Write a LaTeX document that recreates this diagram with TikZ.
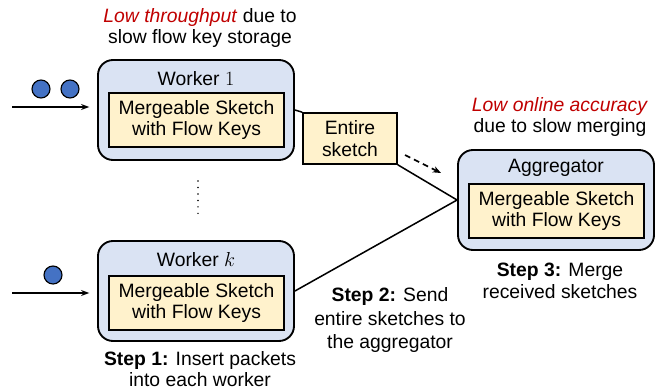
\documentclass[tikz,border=0pt]{standalone}
\usepackage{fontspec}
\setmainfont{Liberation Sans}
\usepackage{xcolor}
\usetikzlibrary{positioning,arrows.meta}

\definecolor{unitblue}{HTML}{DAE3F3}
\definecolor{sketchyellow}{HTML}{FFF2CC}
\definecolor{packetblue}{HTML}{4472C4}
\definecolor{lowred}{HTML}{C00000}

\begin{document}
\begin{tikzpicture}[x=0.03cm, y=-0.03cm,
  font=\fontsize{16.5}{18.5}\selectfont,
  unitbox/.style={draw, line width=1.6pt, fill=unitblue, rounded corners=0.45cm,
    minimum width=5.88cm, minimum height=3cm},
  sketchbox/.style={draw, line width=1.4pt, fill=sketchyellow, align=center,
    inner sep=0pt, minimum width=5.25cm, minimum height=1.62cm},
  packet/.style={circle, draw, line width=1pt, fill=packetblue, inner sep=0pt,
    minimum size=0.54cm},
  note/.style={align=center, inner sep=0pt}]
\useasboundingbox (0,0) rectangle (668,392);

% Worker 1
\node[unitbox] (w1) at (196,110) {};
\node (w1label) at (196,79) {Worker $1$};
\node[sketchbox] (s1) at (196.5,120) {Mergeable Sketch\\with Flow Keys};

% Worker k
\node[unitbox] (wk) at (196,291) {};
\node (wklabel) at (196,260) {Worker $k$};
\node[sketchbox] (sk) at (196.5,303) {Mergeable Sketch\\with Flow Keys};

% Aggregator
\node[unitbox] (agg) at (556,200) {};
\node (agglabel) at (556,168) {Aggregator};
\node[sketchbox] (sagg) at (556.5,211) {Mergeable Sketch\\with Flow Keys};

% Entire sketch in transit
\node[sketchbox, minimum width=2.82cm, minimum height=1.53cm] (entire) at (350,138.5) {Entire\\sketch};

% Packets and input arrows
\node[packet] (p1) at (41,89) {};
\node[packet] (p2) at (70,89) {};
\node[packet] (p3) at (53,275) {};
\coordinate (in1) at (12,107);
\coordinate (ink) at (12,293);
\draw[line width=1.1pt, -{Stealth[length=7pt, width=5pt]}, shorten >=6\pgflinewidth]
  (in1) -- (in1 -| w1.west);
\draw[line width=1.1pt, -{Stealth[length=7pt, width=5pt]}, shorten >=6\pgflinewidth]
  (ink) -- (ink -| wk.west);

% Vertical dots between workers
\coordinate (dtop) at (198,181);
\coordinate (dbot) at (198,214);
\draw[line width=1.4pt, line cap=round, dash pattern=on 0pt off 3.95\pgflinewidth] (dtop) -- (dbot);

% Connections to the aggregator
\draw[line width=1.3pt] (w1.east) -- (entire.north west);
\draw[line width=1.3pt] (entire.south east) -- (agg.west);
\draw[line width=1.3pt] (wk.east) -- (agg.west);
\coordinate (sendstart) at (405,155);
\coordinate (sendend) at (441,173);
\draw[line width=1.4pt, dash pattern=on 5pt off 3.5pt, -{Stealth[length=7pt, width=5.5pt]}] (sendstart) -- (sendend);

% Annotations
\node[note] (tput) at (200,28) {\textcolor{lowred}{\textit{Low throughput}} due to\\slow flow key storage};
\node[note] (acc) at (560,117) {\textcolor{lowred}{\textit{Low online accuracy}}\\due to slow merging};
\node[note] (step1) at (200,369) {\textbf{Step 1:} Insert packets\\into each worker};
\node[note, font=\fontsize{16.5}{20}\selectfont] (step2) at (390,320) {\textbf{Step 2:} Send\\entire sketches to\\the aggregator};
\node[note] (step3) at (560,281) {\textbf{Step 3:} Merge\\received sketches};
\end{tikzpicture}
\end{document}
